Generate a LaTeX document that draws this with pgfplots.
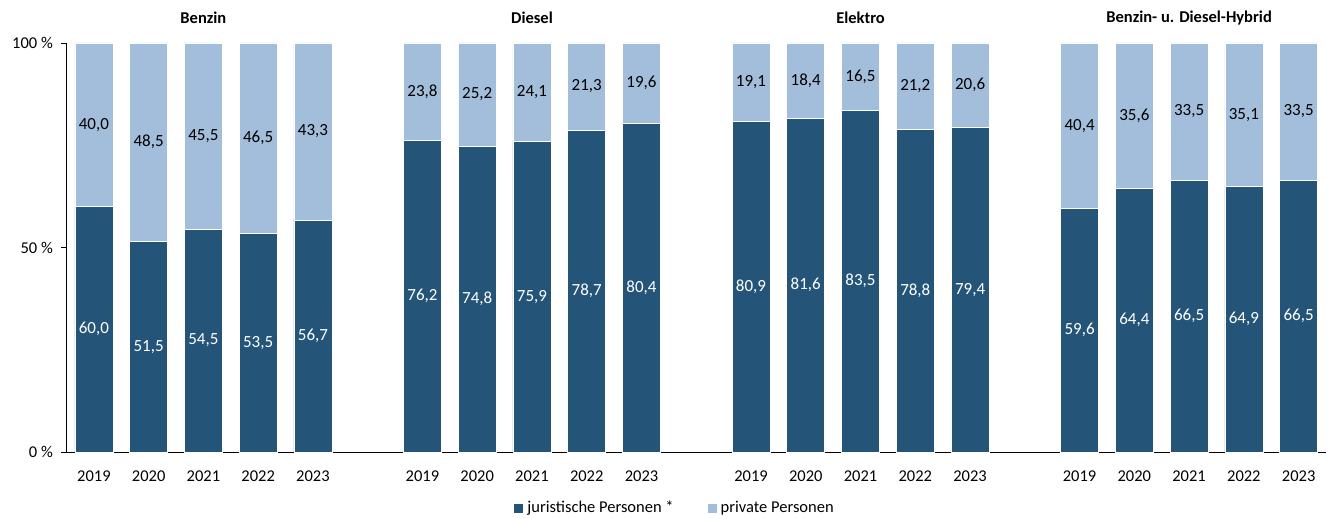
\documentclass[border=0pt]{standalone}
\usepackage{fontspec}
\setmainfont{Carlito}
\usepackage{pgfplots}
\usepackage{pgfplotstable}
\pgfplotsset{compat=1.18}
\definecolor{dark}{HTML}{245578}
\definecolor{light}{HTML}{A3BEDB}
\pgfplotstableread{
x jur priv
0 60.0 40.0
1 51.5 48.5
2 54.5 45.5
3 53.5 46.5
4 56.7 43.3
6 76.2 23.8
7 74.8 25.2
8 75.9 24.1
9 78.7 21.3
10 80.4 19.6
12 80.9 19.1
13 81.6 18.4
14 83.5 16.5
15 78.8 21.2
16 79.4 20.6
18 59.6 40.4
19 64.4 35.6
20 66.5 33.5
21 64.9 35.1
22 66.5 33.5
}\data
\pgfplotsset{
  commonax/.style={
    at={(66.5pt,67pt)}, anchor=south west,
    scale only axis, width=1259.5pt, height=409pt,
    xmin=-0.5, xmax=22.5, ymin=0, ymax=100,
    clip=false,
  },
  numlab/.style={
    nodes near coords={\pgfmathprintnumber[fixed, fixed zerofill, precision=1, use comma, assume math mode=true]{\pgfplotspointmeta}},
    every node near coord/.append style={anchor=center, inner sep=0pt, font=\fontsize{17}{20}\selectfont},
  },
}
\begin{document}
\fontsize{16.5}{20}\selectfont
\begin{tikzpicture}[font=\fontsize{16.5}{20}\selectfont]
\useasboundingbox (0,0) rectangle (1330pt,519pt);
\begin{axis}[commonax,
  ybar stacked, bar width=38pt,
  axis x line*=bottom, axis y line*=left,
  axis line style={black, line width=0.9pt},
  xtick={0,1,2,3,4,6,7,8,9,10,12,13,14,15,16,18,19,20,21,22},
  xticklabels={2019,2020,2021,2022,2023,2019,2020,2021,2022,2023,2019,2020,2021,2022,2023,2019,2020,2021,2022,2023},
  xtick style={draw=none},
  xticklabel style={yshift=-8pt},
  ytick={0,50,100},
  yticklabels={0 \%,50 \%,100 \%},
  ytick style={black, line width=0.8pt},
  tick align=outside, major tick length=5pt,
  yticklabel style={xshift=-3pt},
  legend style={at={(0.484,-0.137)}, anchor=center, draw=none, fill=none,
    legend columns=2, /tikz/every even column/.append style={column sep=30pt},
    nodes={inner xsep=4pt},
    font=\fontsize{16.5}{20}\selectfont, inner sep=0pt},
  legend image code/.code={\fill[#1, draw=none] (0pt,-4.5pt) rectangle (9pt,4.5pt);},
]
\addplot[fill=dark, draw=white, line width=0.7pt] table[x=x, y=jur]{\data};
\addplot[fill=light, draw=white, line width=0.7pt] table[x=x, y=priv]{\data};
\legend{juristische Personen *, private Personen}
\node[font=\bfseries\fontsize{16.5}{20}\selectfont] at (axis cs:2,100) [yshift=25pt] {Benzin};
\node[font=\bfseries\fontsize{16.5}{20}\selectfont] at (axis cs:8,100) [yshift=25pt] {Diesel};
\node[font=\bfseries\fontsize{16.5}{20}\selectfont] at (axis cs:14,100) [yshift=25pt] {Elektro};
\node[font=\bfseries\fontsize{16.5}{20}\selectfont] at (axis cs:20,100) [yshift=25pt] {Benzin- u. Diesel-Hybrid};
\end{axis}
\begin{axis}[commonax, axis lines=none]
\addplot[draw=none, mark=none, numlab, every node near coord/.append style={text=white}, point meta=explicit]
  table[x=x, y expr={\thisrow{jur}/2}, meta=jur]{\data};
\addplot[draw=none, mark=none, numlab, every node near coord/.append style={text=black}, point meta=explicit]
  table[x=x, y expr={\thisrow{jur}+\thisrow{priv}/2}, meta=priv]{\data};
\end{axis}
\end{tikzpicture}
\end{document}
